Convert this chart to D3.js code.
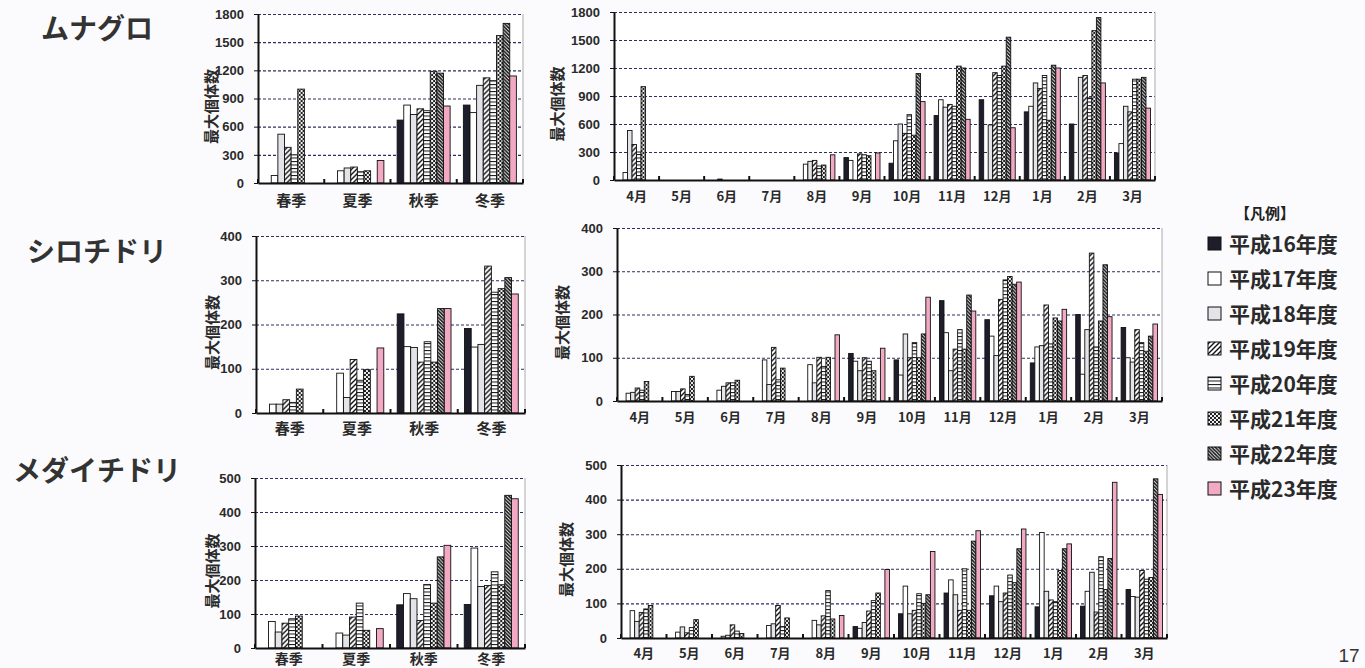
<!DOCTYPE html>
<html lang="ja">
<head>
<meta charset="utf-8">
<script src="https://cdn.jsdelivr.net/npm/d3@7"></script>
<style>
  html, body { margin: 0; padding: 0; background: #fbfbfd; }
  svg { display: block; }
  text { font-family: "Noto Sans CJK JP", "Liberation Sans", sans-serif; fill: #222; }
</style>
</head>
<body>
<svg id="chart" width="1365" height="668"></svg>
<script>
// ---------------- data ----------------
var yearNames = ['平成16年度', '平成17年度', '平成18年度', '平成19年度', '平成20年度', '平成21年度', '平成22年度', '平成23年度'];
var seasons = ['春季', '夏季', '秋季', '冬季'];
var months = ['4月', '5月', '6月', '7月', '8月', '9月', '10月', '11月', '12月', '1月', '2月', '3月'];

var ticksMunaguro = [0, 300, 600, 900, 1200, 1500, 1800];
var ticksShiro = [0, 100, 200, 300, 400];
var ticksMedai = [0, 100, 200, 300, 400, 500];

// each row: one category, values H16 .. H23
var munaguroSeason = [
  [0, 80, 520, 380, 300, 1000, 0, 0],
  [0, 130, 160, 170, 120, 130, 0, 240],
  [670, 830, 730, 790, 770, 1190, 1170, 820],
  [830, 750, 1040, 1120, 1090, 1570, 1700, 1140]
];
var munaguroMonth = [
  [0, 80, 530, 380, 300, 1000, 0, 0],
  [0, 0, 0, 0, 0, 0, 0, 0],
  [0, 0, 10, 0, 0, 0, 0, 0],
  [0, 0, 0, 0, 0, 0, 0, 0],
  [0, 170, 200, 210, 150, 160, 0, 270],
  [240, 210, 0, 280, 270, 260, 0, 290],
  [180, 420, 600, 500, 700, 480, 1140, 840],
  [690, 860, 780, 810, 790, 1220, 1200, 650],
  [860, 0, 590, 1150, 1120, 1220, 1530, 560],
  [730, 790, 1040, 980, 1120, 640, 1230, 1200],
  [600, 0, 1100, 1120, 880, 1600, 1740, 1040],
  [290, 390, 790, 730, 1080, 1080, 1100, 770]
];
var shiroSeason = [
  [0, 20, 20, 30, 24, 54, 0, 0],
  [0, 90, 35, 121, 74, 98, 0, 147],
  [224, 150, 148, 115, 161, 115, 236, 236],
  [191, 149, 155, 332, 273, 281, 306, 269]
];
var shiroMonth = [
  [0, 18, 20, 30, 25, 45, 0, 0],
  [0, 22, 22, 28, 15, 57, 0, 0],
  [0, 25, 34, 42, 42, 48, 0, 0],
  [0, 95, 38, 124, 49, 76, 0, 0],
  [0, 84, 42, 101, 80, 101, 0, 153],
  [110, 92, 70, 100, 92, 70, 0, 122],
  [95, 60, 155, 100, 135, 100, 155, 240],
  [232, 158, 70, 120, 165, 120, 245, 208],
  [188, 150, 105, 235, 280, 288, 270, 275],
  [88, 125, 128, 222, 132, 192, 185, 212],
  [200, 62, 165, 342, 125, 185, 315, 195],
  [170, 100, 90, 165, 135, 115, 150, 178]
];
var medaiSeason = [
  [0, 78, 47, 73, 86, 94, 0, 0],
  [0, 44, 38, 91, 132, 52, 0, 57],
  [127, 160, 145, 81, 187, 132, 268, 302],
  [128, 294, 181, 184, 224, 186, 449, 439]
];
var medaiMonth = [
  [0, 79, 48, 74, 84, 94, 0, 0],
  [0, 17, 32, 15, 30, 53, 0, 0],
  [0, 5, 8, 38, 20, 13, 0, 0],
  [0, 36, 41, 94, 33, 58, 0, 0],
  [0, 51, 38, 64, 137, 55, 0, 65],
  [33, 28, 45, 78, 108, 130, 0, 198],
  [70, 150, 70, 80, 128, 100, 125, 250],
  [130, 168, 125, 80, 200, 80, 280, 310],
  [122, 150, 105, 130, 182, 160, 258, 315],
  [90, 305, 135, 110, 105, 195, 258, 272],
  [92, 135, 190, 75, 235, 140, 230, 450],
  [140, 120, 118, 195, 170, 175, 460, 415]
];

var birds = ['ムナグロ', 'シロチドリ', 'メダイチドリ'];

// ---------------- layout ----------------
var panels = [
  { data: munaguroSeason, cats: seasons, ticks: ticksMunaguro, left: 258, right: 523, top: 14, bottom: 183, labelPad: 12, labelSize: 15, titleOff: 46 },
  { data: munaguroMonth, cats: months, ticks: ticksMunaguro, left: 614, right: 1155, top: 12, bottom: 180, labelPad: 12, labelSize: 13, titleOff: 56 },
  { data: shiroSeason, cats: seasons, ticks: ticksShiro, left: 256, right: 525, top: 236, bottom: 413, labelPad: 10, labelSize: 15, titleOff: 43 },
  { data: shiroMonth, cats: months, ticks: ticksShiro, left: 617, right: 1162, top: 228, bottom: 401, labelPad: 12, labelSize: 13, titleOff: 54 },
  { data: medaiSeason, cats: seasons, ticks: ticksMedai, left: 255, right: 525, top: 478, bottom: 648, labelPad: 6, labelSize: 14, titleOff: 42 },
  { data: medaiMonth, cats: months, ticks: ticksMedai, left: 621, right: 1167, top: 465, bottom: 638, labelPad: 11, labelSize: 13, titleOff: 54 }
];

var svg = d3.select('#chart');

// ---------------- patterns ----------------
var defs = svg.append('defs');

var p19 = defs.append('pattern').attr('id', 'pat19').attr('patternUnits', 'userSpaceOnUse')
  .attr('width', 5).attr('height', 5);
p19.append('rect').attr('width', 5).attr('height', 5).attr('fill', '#fff');
p19.append('path').attr('d', 'M-1,6 L6,-1 M-1,1 L1,-1 M4,6 L6,4').attr('stroke', '#111').attr('stroke-width', 1.4);

var p20 = defs.append('pattern').attr('id', 'pat20').attr('patternUnits', 'userSpaceOnUse')
  .attr('width', 4).attr('height', 3.5);
p20.append('rect').attr('width', 4).attr('height', 3.5).attr('fill', '#fff');
p20.append('line').attr('x1', 0).attr('x2', 4).attr('y1', 0.5).attr('y2', 0.5).attr('stroke', '#111').attr('stroke-width', 1);

var p21 = defs.append('pattern').attr('id', 'pat21').attr('patternUnits', 'userSpaceOnUse')
  .attr('width', 4).attr('height', 4);
p21.append('rect').attr('width', 4).attr('height', 4).attr('fill', '#eee');
p21.append('rect').attr('width', 2).attr('height', 2).attr('fill', '#222');
p21.append('rect').attr('x', 2).attr('y', 2).attr('width', 2).attr('height', 2).attr('fill', '#222');

var p22 = defs.append('pattern').attr('id', 'pat22').attr('patternUnits', 'userSpaceOnUse')
  .attr('width', 3.5).attr('height', 3.5);
p22.append('rect').attr('width', 3.5).attr('height', 3.5).attr('fill', '#fff');
p22.append('path').attr('d', 'M-1,-1 L4.5,4.5 M2.5,-1 L4.5,1 M-1,2.5 L1,4.5').attr('stroke', '#111').attr('stroke-width', 1.6);

var fills = ['#1e1d2b', '#ffffff', '#e4e4e8', 'url(#pat19)', 'url(#pat20)', 'url(#pat21)', 'url(#pat22)', '#f2a9c4'];

// ---------------- bird names ----------------
svg.selectAll('text.bird').data(birds).join('text')
  .attr('class', 'bird')
  .attr('x', 97)
  .attr('y', (d, i) => [39, 262, 481][i])
  .attr('text-anchor', 'middle')
  .attr('font-size', 28)
  .attr('font-weight', 'bold')
  .style('fill', '#333')
  .text(d => d);

// ---------------- panels ----------------
panels.forEach(drawPanel);

function drawPanel(p) {
  var x0 = d3.scaleBand().domain(p.cats).range([p.left, p.right]).paddingInner(0.2).paddingOuter(0.1);
  var x1 = d3.scaleBand().domain(d3.range(yearNames.length)).range([0, x0.bandwidth()]);
  var y = d3.scaleLinear().domain([0, d3.max(p.ticks)]).range([p.bottom, p.top]);
  var g = svg.append('g');

  g.append('rect')
    .attr('x', p.left).attr('y', p.top)
    .attr('width', p.right - p.left).attr('height', p.bottom - p.top)
    .attr('fill', '#fff');

  // dashed grid
  var grid = g.append('g')
    .attr('transform', 'translate(' + p.left + ',0)')
    .call(d3.axisLeft(y).tickValues(p.ticks.slice(1)).tickSize(-(p.right - p.left)).tickFormat(''));
  grid.select('.domain').remove();
  grid.selectAll('line').attr('stroke', '#2d2d63').attr('stroke-dasharray', '3,2').attr('stroke-width', 1.1);

  // thin right frame
  g.append('line')
    .attr('x1', p.right).attr('x2', p.right).attr('y1', p.top).attr('y2', p.bottom)
    .attr('stroke', '#aaa').attr('stroke-width', 1);

  // bars
  var cat = g.selectAll('g.cat').data(p.data).join('g')
    .attr('class', 'cat')
    .attr('transform', (d, i) => 'translate(' + x0(p.cats[i]) + ',0)');
  cat.selectAll('rect')
    .data(d => d.map((v, k) => ({ v: v, k: k })).filter(e => e.v > 0))
    .join('rect')
    .attr('x', d => x1(d.k))
    .attr('width', x1.bandwidth())
    .attr('y', d => y(d.v))
    .attr('height', d => y(0) - y(d.v))
    .attr('fill', d => fills[d.k])
    .attr('stroke', '#111')
    .attr('stroke-width', 0.9);

  // category boundary ticks
  var step = x0.step();
  g.selectAll('line.ctick').data(d3.range(p.cats.length + 1)).join('line')
    .attr('class', 'ctick')
    .attr('x1', i => x0(p.cats[0]) - step * x0.paddingInner() / 2 + i * step)
    .attr('x2', i => x0(p.cats[0]) - step * x0.paddingInner() / 2 + i * step)
    .attr('y1', p.bottom).attr('y2', p.bottom - 4)
    .attr('stroke', '#111').attr('stroke-width', 2);

  // y axis
  var ya = g.append('g')
    .attr('transform', 'translate(' + p.left + ',0)')
    .call(d3.axisLeft(y).tickValues(p.ticks).tickFormat(d3.format('d')).tickSize(4).tickSizeOuter(0).tickPadding(10));
  ya.select('.domain').attr('stroke', '#111').attr('stroke-width', 2);
  ya.selectAll('line').attr('stroke', '#111');
  ya.selectAll('text')
    .style('font-family', '"Liberation Sans", Arial, sans-serif')
    .attr('font-weight', 'bold').attr('font-size', 13).style('fill', '#2a2a2a');

  // x axis
  var xa = g.append('g')
    .attr('transform', 'translate(0,' + p.bottom + ')')
    .call(d3.axisBottom(x0).tickSize(0).tickSizeOuter(0).tickPadding(p.labelPad));
  xa.select('.domain').attr('stroke', '#111').attr('stroke-width', 2);
  xa.selectAll('text').attr('font-weight', 'bold').attr('font-size', p.labelSize).style('fill', '#2a2a2a')
    .style('font-family', '"Noto Sans CJK JP", sans-serif');

  // y title
  var ty = (p.top + p.bottom) / 2 + 8;
  g.append('text')
    .attr('transform', 'translate(' + (p.left - p.titleOff) + ',' + ty + ') rotate(-90)')
    .attr('text-anchor', 'middle')
    .attr('dy', '0.35em')
    .attr('font-size', 15)
    .attr('font-weight', 'bold')
    .style('fill', '#2a2a2a')
    .text('最大個体数');
}

// ---------------- legend ----------------
var legend = svg.append('g');
legend.append('text')
  .attr('x', 1265).attr('y', 219)
  .attr('text-anchor', 'middle')
  .attr('font-size', 15).attr('font-weight', 'bold')
  .text('【凡例】');

var item = legend.selectAll('g.item').data(yearNames).join('g')
  .attr('class', 'item')
  .attr('transform', (d, i) => 'translate(1208,' + (244 + i * 35) + ')');
item.append('rect')
  .attr('x', 0).attr('y', -7).attr('width', 13).attr('height', 13)
  .attr('fill', (d, i) => fills[i])
  .attr('stroke', '#111').attr('stroke-width', 1);
item.append('text')
  .attr('x', 21).attr('y', 0).attr('dy', '0.36em')
  .attr('font-size', 21).attr('font-weight', 'bold')
  .style('fill', '#2a2a2a')
  .text(d => d);

// page number
svg.append('text')
  .attr('x', 1349).attr('y', 662)
  .attr('text-anchor', 'middle')
  .attr('font-size', 19)
  .style('font-family', '"Liberation Sans", Arial, sans-serif')
  .style('fill', '#333')
  .text('17');
</script>
</body>
</html>
